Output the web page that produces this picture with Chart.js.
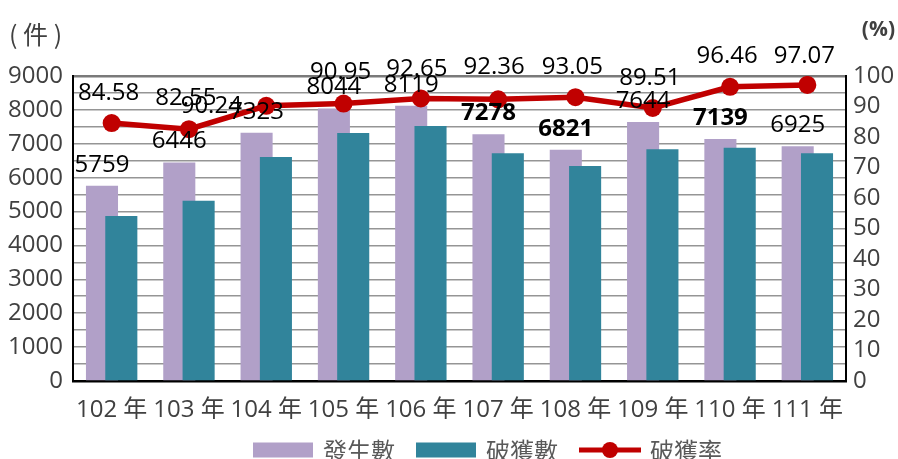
<!DOCTYPE html>
<html>
<head>
<meta charset="utf-8">
<script src="https://cdn.jsdelivr.net/npm/chart.js@4.4.1/dist/chart.umd.min.js"></script>
<style>
html,body{margin:0;padding:0;background:#fff;}
#wrap{width:898px;height:459px;position:relative;}
</style>
</head>
<body>
<div id="wrap"><canvas id="c" width="898" height="459"></canvas></div>
<script>
// ---- data ----
const categories = ['102 年','103 年','104 年','105 年','106 年','107 年','108 年','109 年','110 年','111 年'];
const occurred = [5759, 6446, 7323, 8044, 8119, 7278, 6821, 7644, 7139, 6925];
const solved   = [4871, 5321, 6608, 7316, 7522, 6722, 6347, 6842, 6886, 6722];
const rates    = [84.58, 82.55, 90.24, 90.95, 92.65, 92.36, 93.05, 89.51, 96.46, 97.07];
const leftTicks  = [0, 1000, 2000, 3000, 4000, 5000, 6000, 7000, 8000, 9000];
const rightTicks = [0, 10, 20, 30, 40, 50, 60, 70, 80, 90, 100];
const seriesNames = ['發生數', '破獲數', '破獲率'];
const boldCountIdx = [5, 6, 8];

// ---- label placement (style) ----
const rateDx = [-3, -3, -55, -3, -4, -4, -3, -3, -3, -3];
const rateDy = [-30, -31, 0, -31, -29, -32, -30, -30, -31, -29];
const countDy = -21;

const COL_PURPLE = '#B1A0C8';
const COL_TEAL = '#31849B';
const COL_RED = '#C00000';
const FONT = "'Open Sans', 'Noto Sans CJK TC', sans-serif";
const CJK = "'Noto Sans CJK TC', 'Open Sans', sans-serif";

const orderPlugin = {
  id: 'orderPlugin',
  beforeDatasetDraw(chart, args) {
    if (args.index === 1 && !chart.$drawingTeal) return false;
  },
  afterDatasetDraw(chart, args) {
    if (args.index === 0) {
      chart.$drawingTeal = true;
      chart.getDatasetMeta(1).controller.draw();
      chart.$drawingTeal = false;
    }
  }
};

const labelPlugin = {
  id: 'labelPlugin',
  afterDatasetsDraw(chart) {
    const ctx = chart.ctx;
    ctx.save();
    ctx.textAlign = 'center';
    ctx.textBaseline = 'middle';
    ctx.fillStyle = '#000';
    const barMeta = chart.getDatasetMeta(0);
    barMeta.data.forEach((el, i) => {
      ctx.font = (boldCountIdx.includes(i) ? 'bold ' : '') + '24px ' + FONT;
      ctx.fillText(String(occurred[i]), el.x, el.y + countDy);
    });
    const lineMeta = chart.getDatasetMeta(2);
    ctx.font = '24px ' + FONT;
    lineMeta.data.forEach((el, i) => {
      ctx.fillText(rates[i].toFixed(2), el.x + rateDx[i], el.y + rateDy[i]);
    });
    ctx.restore();
  }
};

const decoPlugin = {
  id: 'decoPlugin',
  afterDraw(chart) {
    const ctx = chart.ctx;
    ctx.save();
    // unit titles
    ctx.fillStyle = '#404040';
    ctx.textBaseline = 'middle';
    ctx.textAlign = 'left';
    ctx.font = '25px ' + CJK;
    ctx.fillText('( 件 )', 9, 34);
    ctx.textAlign = 'right';
    ctx.font = 'bold 21px ' + FONT;
    ctx.fillText('(%)', 895, 30);
    // legend
    const ds = chart.data.datasets;
    let x = 253;
    const cy = 450;
    ctx.textAlign = 'left';
    ctx.font = '24px ' + CJK;
    ds.forEach((d, i) => {
      if (d.type === 'line') {
        ctx.strokeStyle = d.borderColor;
        ctx.lineWidth = 5;
        ctx.beginPath();
        ctx.moveTo(x, cy);
        ctx.lineTo(x + 62, cy);
        ctx.stroke();
        ctx.fillStyle = d.pointBackgroundColor;
        ctx.beginPath();
        ctx.arc(x + 31, cy, 8, 0, Math.PI * 2);
        ctx.fill();
        x += 62 + 9;
      } else {
        ctx.fillStyle = d.backgroundColor;
        ctx.fillRect(x, cy - 7.5, 60, 15);
        x += 60 + 10;
      }
      ctx.fillStyle = '#595959';
      ctx.fillText(d.label, x, cy + 1);
      x += ctx.measureText(d.label).width + 21;
    });
    ctx.restore();
  }
};

new Chart(document.getElementById('c'), {
  data: {
    labels: categories,
    datasets: [
      {
        type: 'bar', label: seriesNames[0], data: occurred,
        backgroundColor: COL_PURPLE, yAxisID: 'y', order: 1,
        barPercentage: 1.66, categoryPercentage: 0.5
      },
      {
        type: 'bar', label: seriesNames[1], data: solved,
        backgroundColor: COL_TEAL, yAxisID: 'y', order: 1,
        barPercentage: 1.66, categoryPercentage: 0.5
      },
      {
        type: 'line', label: seriesNames[2], data: rates,
        borderColor: COL_RED, backgroundColor: COL_RED,
        pointBackgroundColor: COL_RED, pointBorderColor: COL_RED,
        pointRadius: 9, pointBorderWidth: 0, pointHoverRadius: 9,
        borderWidth: 5.5, tension: 0, yAxisID: 'y1', order: 0
      }
    ]
  },
  options: {
    responsive: false,
    animation: false,
    devicePixelRatio: 1,
    layout: { padding: { top: 76, bottom: 40, left: 0, right: 0 } },
    plugins: {
      legend: { display: false },
      tooltip: { enabled: false },
      title: { display: false }
    },
    scales: {
      x: {
        offset: true,
        grid: { display: false, drawTicks: false },
        border: { display: true, color: '#000', width: 2.5 },
        ticks: { color: '#404040', font: { family: FONT, size: 24 }, padding: 15, maxRotation: 0, autoSkip: false },
        afterFit(s) { s.height = 38; }
      },
      y: {
        position: 'left', min: 0, max: 9000,
        grid: {
          drawTicks: false,
          color: (c) => (c.tick && c.tick.value === 9000) ? '#7a7a7a' : '#959595',
          lineWidth: (c) => (c.tick && c.tick.value === 9000) ? 2.5 : 1.6
        },
        border: { display: true, color: '#000', width: 2 },
        ticks: {
          stepSize: 500, padding: 10, color: '#404040', autoSkip: false,
          font: { family: FONT, size: 24 },
          callback: (v) => leftTicks.includes(v) ? String(v) : ''
        },
        afterFit(s) { s.width = 73; }
      },
      y1: {
        position: 'right', min: 0, max: 100,
        grid: { display: false, drawOnChartArea: false, drawTicks: false },
        border: { display: true, color: '#000', width: 2 },
        ticks: {
          stepSize: 10, padding: 7, color: '#404040', autoSkip: false,
          font: { family: FONT, size: 24 },
          callback: (v) => rightTicks.includes(v) ? String(v) : ''
        },
        afterFit(s) { s.width = 52; }
      }
    }
  },
  plugins: [orderPlugin, labelPlugin, decoPlugin]
});
</script>
</body>
</html>
